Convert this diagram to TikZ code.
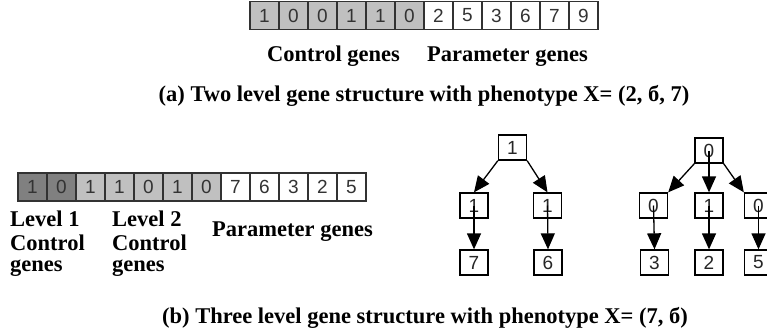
\documentclass[tikz,border=0pt]{standalone}
\usepackage{fontspec}
\setmainfont{Liberation Serif}
\newfontfamily\cellfont{Liberation Sans}
\usetikzlibrary{arrows.meta}

\definecolor{ctrlgray}{RGB}{192,192,192}
\definecolor{darkgray}{RGB}{128,128,128}
\definecolor{edge}{RGB}{50,50,50}

\tikzset{
  cell/.style={draw=edge, line width=1.3pt, minimum width=29pt, minimum height=28pt,
    inner sep=0pt, font=\cellfont\fontsize{19}{19}\selectfont, text=black!80},
  lvone/.style={cell, fill=darkgray},
  lvtwo/.style={cell, fill=ctrlgray},
  param/.style={cell, fill=white},
  tnode/.style={draw=black, line width=1.3pt, minimum width=28pt, minimum height=25pt,
    inner sep=0pt, fill=white, font=\cellfont\fontsize{19}{19}\selectfont, text=black!85},
  lbl/.style={font=\bfseries\fontsize{22.5}{22.5}\selectfont, inner sep=0pt, anchor=base west},
  arr/.style={-{Triangle[length=16pt,width=14pt]}, line width=1.3pt, black},
}

\begin{document}
\begin{tikzpicture}[x=1pt, y=-1pt]
\useasboundingbox (0,0) rectangle (767,334);

% ---- two level chromosome: 6 control genes, 6 parameter genes
\foreach \v [count=\i] in {1,0,0,1,1,0} {
  \node[lvtwo] (t\i) at ({250+29*(\i-0.5)}, 15.5) {\v};
}
\foreach \v [count=\i from 7] in {2,5,3,6,7,9} {
  \node[param] (t\i) at ({250+29*(\i-0.5)}, 15.5) {\v};
}
\node[lbl] (ctrlA) at (267,62) {Control genes};
\node[lbl] (parA) at (427,62) {Parameter genes};
\node[lbl, anchor=base] (capA) at (424,102) {(a) Two level gene structure with phenotype X= (2, б, 7)};

% ---- three level chromosome: 2 level-1, 5 level-2 control genes, 5 parameters
\foreach \v [count=\i] in {1,0} {
  \node[lvone] (b\i) at ({18+29*(\i-0.5)}, 187) {\v};
}
\foreach \v [count=\i from 3] in {1,1,0,1,0} {
  \node[lvtwo] (b\i) at ({18+29*(\i-0.5)}, 187) {\v};
}
\foreach \v [count=\i from 8] in {7,6,3,2,5} {
  \node[param] (b\i) at ({18+29*(\i-0.5)}, 187) {\v};
}
\node[lbl] (lv1a) at (10,226) {Level 1};
\node[lbl] (lv1b) at (10,250) {Control};
\node[lbl] (lv1c) at (10,271) {genes};
\node[lbl] (lv2a) at (112,226) {Level 2};
\node[lbl] (lv2b) at (112,250) {Control};
\node[lbl] (lv2c) at (112,271) {genes};
\node[lbl] (parB) at (212,236) {Parameter genes};
\node[lbl, anchor=base] (capB) at (425,323) {(b) Three level gene structure with phenotype X= (7, б)};

% ---- hierarchy decoded from level-1 gene "1"
\node[tnode] (ra) at (512.5,147.5) {1};
\node[tnode] (ca1) at (474,205.5) {1};
\node[tnode] (ca2) at (547.5,205.5) {1};
\node[tnode] (la1) at (474,262.5) {7};
\node[tnode] (la2) at (548,262.5) {6};
\draw[arr] (ra.south west) -- (ca1.north);
\draw[arr] (ra.south east) -- (ca2.north);
\draw[arr] (ca1.center) -- (la1.north);
\draw[arr] (ca2.center) -- (la2.north);

% ---- hierarchy decoded from level-1 gene "0"
\node[tnode] (rb) at (709,150.5) {0};
\node[tnode] (cb1) at (653.5,205.5) {0};
\node[tnode] (cb2) at (709,205.5) {1};
\node[tnode] (cb3) at (758.5,205.5) {0};
\node[tnode] (lb1) at (654.5,262.5) {3};
\node[tnode] (lb2) at (709,262.5) {2};
\node[tnode] (lb3) at (758.5,262.5) {5};
\draw[arr] (rb.south west) -- (cb1.north east);
\draw[arr] (rb.center) -- (cb2.north);
\draw[arr] (rb.south east) -- (cb3.north west);
\draw[arr] (cb1.center) -- (lb1.north);
\draw[arr] (cb2.center) -- (lb2.north);
\draw[arr] (cb3.center) -- (lb3.north);
\end{tikzpicture}
\end{document}
